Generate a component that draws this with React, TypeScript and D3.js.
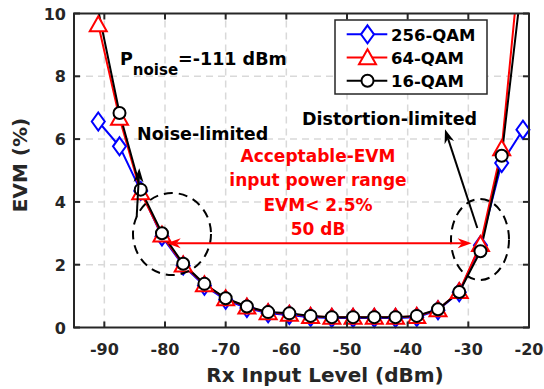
import * as d3 from "d3";
import { useRef, useEffect } from "react";

// Rx input level (dBm) of each measured point
const levels = [-91, -87.5, -84, -80.5, -77, -73.5, -70, -66.5, -63, -59.5, -56, -52.5, -49, -45.5, -42, -38.5, -35, -31.5, -28, -24.5, -21];
// EVM (%) per modulation
const evm256 = [6.56, 5.77, 4.35, 2.9, 1.97, 1.33, 0.88, 0.62, 0.45, 0.4, 0.33, 0.3, 0.3, 0.3, 0.3, 0.33, 0.55, 1.12, 2.62, 5.24, 6.3];
const evm64 = [9.65, 6.67, 4.3, 2.95, 2.0, 1.37, 0.92, 0.66, 0.48, 0.43, 0.36, 0.33, 0.33, 0.33, 0.33, 0.36, 0.57, 1.15, 2.65, 5.7, 12.7];
const evm16 = [10.1, 6.83, 4.39, 3.0, 2.03, 1.39, 0.93, 0.67, 0.49, 0.45, 0.37, 0.33, 0.33, 0.33, 0.33, 0.37, 0.58, 1.13, 2.43, 5.47, 11.3];
const seriesNames = ["256-QAM", "64-QAM", "16-QAM"];
const seriesColors = ["#0000ff", "#ff0000", "#000000"];
const seriesMarkers = ["diamond", "triangle", "circle"];
const xTicks = [-90, -80, -70, -60, -50, -40, -30, -20];
const yTicks = [0, 2, 4, 6, 8, 10];
const noteLines = ["Acceptable-EVM", "input power range", "EVM< 2.5%", "50 dB"];

const FONT = "'DejaVu Sans', sans-serif";

export default function App() {
  const svgRef = useRef(null);
  const width = 544;
  const height = 389;

  useEffect(() => {
    const svg = d3.select(svgRef.current);
    svg.selectAll("*").remove();

    const x = d3.scaleLinear().domain([-95, -20]).range([74, 529]);
    const y = d3.scaleLinear().domain([0, 10]).range([327.5, 13.5]);
    const [x0, x1] = x.range();
    const [y0, y1] = y.range();
    const axisColor = "#262626";

    svg.append("defs").append("clipPath").attr("id", "plot-clip")
      .append("rect").attr("x", x0).attr("y", y1).attr("width", x1 - x0).attr("height", y0 - y1);

    // grid
    const grid = svg.append("g").attr("stroke", "#d9d9d9").attr("stroke-width", 1.5).attr("stroke-dasharray", "7,5");
    grid.selectAll(".gx").data(xTicks.filter((t) => t > -95 && t < -20)).join("line")
      .attr("x1", (d) => x(d)).attr("x2", (d) => x(d)).attr("y1", y0).attr("y2", y1);
    grid.selectAll(".gy").data(yTicks.filter((t) => t > 0 && t < 10)).join("line")
      .attr("x1", x0).attr("x2", x1).attr("y1", (d) => y(d)).attr("y2", (d) => y(d));

    // series
    const allEvm = [evm256, evm64, evm16];
    const plot = svg.append("g").attr("clip-path", "url(#plot-clip)");
    const markerPath = (kind: string) => {
      if (kind === "diamond") return "M0,-9L6.5,0L0,9L-6.5,0Z";
      if (kind === "triangle") return "M0,-8.3L8.5,6.7L-8.5,6.7Z";
      return d3.symbol(d3.symbolCircle, Math.PI * 36)();
    };
    allEvm.forEach((vals, i) => {
      const pts = levels.map((l, k) => [l, vals[k]] as [number, number]);
      const line = d3.line<[number, number]>().x((d) => x(d[0])).y((d) => y(d[1]));
      plot.append("path").attr("d", line(pts)).attr("fill", "none")
        .attr("stroke", seriesColors[i]).attr("stroke-width", 2);
      svg.append("g").selectAll("path").data(pts.filter((d) => d[1] <= 10)).join("path")
        .attr("transform", (d) => `translate(${x(d[0])},${y(d[1])})`)
        .attr("d", markerPath(seriesMarkers[i]))
        .attr("fill", "#fff").attr("stroke", seriesColors[i]).attr("stroke-width", 2);
    });

    // axes box + ticks
    const ax = svg.append("g").attr("stroke", axisColor).attr("stroke-width", 2);
    ax.append("rect").attr("x", x0).attr("y", y1).attr("width", x1 - x0).attr("height", y0 - y1).attr("fill", "none");
    xTicks.forEach((t) => {
      ax.append("line").attr("x1", x(t)).attr("x2", x(t)).attr("y1", y0).attr("y2", y0 - 6);
      ax.append("line").attr("x1", x(t)).attr("x2", x(t)).attr("y1", y1).attr("y2", y1 + 6);
    });
    yTicks.forEach((t) => {
      ax.append("line").attr("x1", x0).attr("x2", x0 + 6).attr("y1", y(t)).attr("y2", y(t));
      ax.append("line").attr("x1", x1).attr("x2", x1 - 6).attr("y1", y(t)).attr("y2", y(t));
    });

    const txt = svg.append("g").attr("font-family", FONT).attr("font-weight", "bold");
    txt.selectAll(".xt").data(xTicks).join("text")
      .attr("x", (d) => x(d)).attr("y", 355).attr("text-anchor", "middle")
      .attr("font-size", 16).attr("fill", axisColor).text((d) => d);
    txt.selectAll(".yt").data(yTicks).join("text")
      .attr("x", 66).attr("y", (d) => y(d) + 6).attr("text-anchor", "end")
      .attr("font-size", 16).attr("fill", axisColor).text((d) => d);
    txt.append("text").attr("x", 325).attr("y", 382).attr("text-anchor", "middle")
      .attr("font-size", 20).attr("fill", axisColor).text("Rx Input Level (dBm)");
    txt.append("text").attr("transform", "translate(27,165) rotate(-90)").attr("text-anchor", "middle")
      .attr("font-size", 20).attr("fill", axisColor).text("EVM (%)");

    // P_noise label
    const pn = txt.append("text").attr("x", 120).attr("y", 65).attr("font-size", 17.5).attr("fill", "#000");
    pn.append("tspan").text("P");
    pn.append("tspan").attr("font-size", 15).attr("dy", 10).text("noise");
    pn.append("tspan").attr("dy", -10).text("=-111 dBm");

    txt.append("text").attr("x", 137).attr("y", 140).attr("font-size", 17.5).attr("fill", "#000").text("Noise-limited");
    txt.append("text").attr("x", 302).attr("y", 124.5).attr("font-size", 17.5).attr("fill", "#000").text("Distortion-limited");
    txt.selectAll(".note").data(noteLines).join("text")
      .attr("x", 318).attr("y", (d, i) => 161.5 + i * 24.5).attr("text-anchor", "middle")
      .attr("font-size", 17).attr("fill", "#ff0000").text((d) => d);

    // dashed ellipses
    const ell = svg.append("g").attr("fill", "none").attr("stroke", "#000").attr("stroke-width", 2).attr("stroke-dasharray", "9,6");
    ell.append("ellipse").attr("cx", 172).attr("cy", 234).attr("rx", 39).attr("ry", 41);
    ell.append("ellipse").attr("cx", 480).attr("cy", 239.5).attr("rx", 29).attr("ry", 40.5);

    // arrows
    const arrow = (ax1: number, ay1: number, ax2: number, ay2: number, color: string) => {
      const dx = ax2 - ax1, dy = ay2 - ay1;
      const len = Math.hypot(dx, dy);
      const ux = dx / len, uy = dy / len, nx = -uy, ny = ux;
      const L = 14, W = 5;
      const g = svg.append("g");
      g.append("line").attr("x1", ax1).attr("y1", ay1)
        .attr("x2", ax2 - ux * L * 0.7).attr("y2", ay2 - uy * L * 0.7)
        .attr("stroke", color).attr("stroke-width", 2);
      g.append("path")
        .attr("d", `M${ax2},${ay2}L${ax2 - ux * L + nx * W},${ay2 - uy * L + ny * W}L${ax2 - ux * L * 0.7},${ay2 - uy * L * 0.7}L${ax2 - ux * L - nx * W},${ay2 - uy * L - ny * W}Z`)
        .attr("fill", color);
    };
    arrow(320, 243.3, 166.7, 243.3, "#ff0000");
    arrow(320, 243.3, 471.7, 243.3, "#ff0000");
    arrow(136.7, 216.7, 139.3, 168.3, "#000");
    arrow(477.3, 228, 445, 129.3, "#000");

    // legend
    const lg = svg.append("g");
    lg.append("rect").attr("x", 335).attr("y", 20).attr("width", 152).attr("height", 74)
      .attr("fill", "#fff").attr("stroke", axisColor).attr("stroke-width", 1.5);
    seriesNames.forEach((name, i) => {
      const ly = 34.3 + i * 23.2;
      lg.append("line").attr("x1", 346.7).attr("x2", 387.3).attr("y1", ly).attr("y2", ly)
        .attr("stroke", seriesColors[i]).attr("stroke-width", 2);
      lg.append("path").attr("transform", `translate(367.5,${ly})`).attr("d", markerPath(seriesMarkers[i]))
        .attr("fill", "#fff").attr("stroke", seriesColors[i]).attr("stroke-width", 2);
      lg.append("text").attr("x", 391).attr("y", ly + 6.3).attr("font-family", FONT).attr("font-weight", "bold")
        .attr("font-size", 16.5).attr("fill", "#000").text(name);
    });
  }, []);

  return (
    <svg ref={svgRef} width={width} height={height}
      style={{ position: "absolute", left: 0, top: 0, background: "#fff" }}></svg>
  );
}
